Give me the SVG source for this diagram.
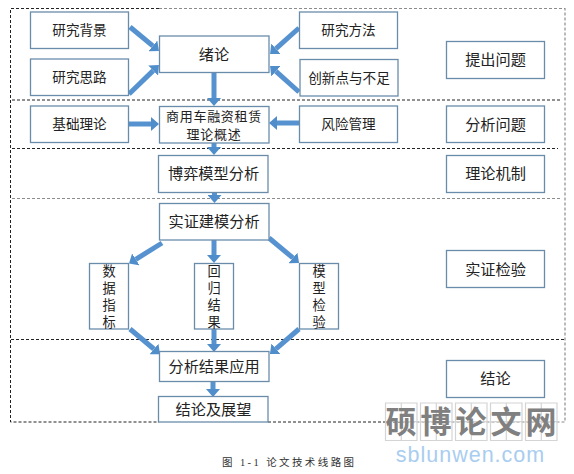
<svg xmlns="http://www.w3.org/2000/svg" width="574" height="474" viewBox="0 0 574 474">
<style>
.bg{fill:#fff}
.d{fill:none;stroke:#222;stroke-width:1;stroke-dasharray:3 2}
.dg{fill:none;stroke:#8c8c8c;stroke-width:1.2;stroke-dasharray:3 2}
.b{fill:#fff;stroke:#6a8cab;stroke-width:1.3}
.t{font-family:"Noto Sans CJK SC","Liberation Sans",sans-serif;fill:#222;text-anchor:middle;font-size:13.6px}
.l{font-size:15.2px}
.s{font-size:13px;letter-spacing:.7px}
.v{font-family:"Noto Sans CJK SC","Liberation Sans",sans-serif;fill:#222;font-size:13.2px;writing-mode:vertical-rl;letter-spacing:3.6px}
.a{fill:none;stroke:#5592cf;stroke-width:5;marker-end:url(#h)}
.wb{fill:none;stroke:#d4d4d4;stroke-width:1.2}
.wc{font-family:"Noto Sans CJK SC",sans-serif;font-weight:700;font-size:31px;fill:#808080;text-anchor:middle}
.wu{font-family:"Liberation Sans",sans-serif;font-size:21.5px;fill:#a9cdf0;text-anchor:middle;letter-spacing:1px}
.c{font-family:"Liberation Serif","Noto Sans CJK SC",serif;font-size:10.5px;fill:#333;letter-spacing:2.4px}
</style>
<defs>
<marker id="h" markerUnits="userSpaceOnUse" markerWidth="8" markerHeight="14" refX="0" refY="7" orient="auto"><path d="M0 0L8 7L0 14Z" fill="#4f8dcb"/></marker>
</defs>
<rect class="bg" width="574" height="474"/>
<g id="frame">
<path class="d" d="M159 8.500H10.500V422H159"/>
<path class="dg" d="M159 8.500H565V422H400"/>
<path class="d" d="M12 100H561"/>
<path class="d" d="M12 148.500H558"/>
<path class="dg" d="M12 198.500H561"/>
<path class="d" d="M11 339.500H565"/>
<path class="d" d="M268 422H400"/>
</g>
<g id="connectors">
<line class="a" x1="130" y1="27" x2="152.800" y2="45.900"/>
<line class="a" x1="129" y1="94" x2="153.200" y2="70.600"/>
<line class="a" x1="299" y1="28" x2="276" y2="48.700"/>
<line class="a" x1="299" y1="92" x2="276" y2="71.300"/>
<line class="a" x1="214" y1="73" x2="214" y2="98"/>
<line class="a" x1="128" y1="124" x2="151" y2="124"/>
<line class="a" x1="300" y1="123" x2="277" y2="123"/>
<line class="a" x1="214" y1="143" x2="214" y2="147"/>
<line class="a" x1="214.500" y1="192" x2="214.500" y2="195"/>
<line class="a" x1="162" y1="243" x2="135.800" y2="259.300"/>
<line class="a" x1="214" y1="240" x2="214" y2="255"/>
<line class="a" x1="269" y1="238" x2="292.900" y2="257.900"/>
<line class="a" x1="130" y1="329" x2="153.900" y2="349"/>
<line class="a" x1="214" y1="329" x2="214" y2="344"/>
<line class="a" x1="299" y1="329" x2="276" y2="348.800"/>
<line class="a" x1="213" y1="381" x2="213" y2="389"/>
</g>
<g id="n1"><rect class="b" x="30.500" y="12" width="98" height="36.500"/><text class="t" x="79.500" y="35">研究背景</text></g>
<g id="n2"><rect class="b" x="30.500" y="59" width="98" height="36.500"/><text class="t" x="79.500" y="82">研究思路</text></g>
<g id="n3"><rect class="b" x="159.500" y="36" width="109.500" height="36.500"/><text class="t l" x="214" y="59.500">绪论</text></g>
<g id="n4"><rect class="b" x="299.500" y="12" width="98" height="36.500"/><text class="t" x="348.500" y="35">研究方法</text></g>
<g id="n5"><rect class="b" x="300" y="59.500" width="98" height="36.500"/><text class="t" x="349" y="82.500">创新点与不足</text></g>
<g id="n6"><rect class="b" x="446.500" y="41.500" width="98" height="37"/><text class="t l" x="495.500" y="65">提出问题</text></g>
<g id="n7"><rect class="b" x="30.500" y="106" width="98" height="36.500"/><text class="t" x="79.500" y="129">基础理论</text></g>
<g id="n8"><rect class="b" x="159.500" y="106.500" width="109.500" height="36.500"/><text class="t s" x="214" y="120.500">商用车融资租赁</text><text class="t s" x="214" y="139">理论概述</text></g>
<g id="n9"><rect class="b" x="299.500" y="106" width="98" height="36.500"/><text class="t" x="348.500" y="129">风险管理</text></g>
<g id="n10"><rect class="b" x="446.500" y="106" width="98" height="36.500"/><text class="t l" x="495.500" y="129.500">分析问题</text></g>
<g id="n11"><rect class="b" x="158.500" y="155.500" width="109.500" height="37"/><text class="t l" x="213.500" y="179">博弈模型分析</text></g>
<g id="n12"><rect class="b" x="446.500" y="155.500" width="98" height="37"/><text class="t l" x="495.500" y="179">理论机制</text></g>
<g id="n13"><rect class="b" x="159.500" y="203.500" width="109.500" height="36.500"/><text class="t l" x="214" y="226.500">实证建模分析</text></g>
<g id="n14"><rect class="b" x="89.500" y="263.500" width="39" height="65.500"/><text class="v" x="109" y="264.500">数据指标</text></g>
<g id="n15"><rect class="b" x="194.500" y="263.500" width="39" height="65.500"/><text class="v" x="214" y="264.500">回归结果</text></g>
<g id="n16"><rect class="b" x="299.500" y="263.500" width="39" height="65.500"/><text class="v" x="319" y="264.500">模型检验</text></g>
<g id="n17"><rect class="b" x="446.500" y="250.500" width="98" height="37"/><text class="t l" x="495.500" y="274.500">实证检验</text></g>
<g id="n18"><rect class="b" x="159.500" y="351.500" width="109.500" height="30"/><text class="t l" x="214" y="371.500">分析结果应用</text></g>
<g id="n19"><rect class="b" x="158.500" y="396.500" width="109.500" height="25.500"/><text class="t l" x="213.500" y="414.500">结论及展望</text></g>
<g id="n20"><rect class="b" x="446.500" y="360.500" width="98" height="37"/><text class="t l" x="495.500" y="384">结论</text></g>
<text class="c" x="222" y="466">图 1-1 论文技术线路图</text>
<g id="watermark">
<path class="wb" d="M385.500 403h31.500v37.500h-31.500zM401.300 403v37.500M385.500 421.700h31.500M420.500 403h31.500v37.500h-31.500zM436.300 403v37.500M420.500 421.700h31.500M455.500 403h31.500v37.500h-31.500zM471.300 403v37.500M455.500 421.700h31.500M490.500 403h31.500v37.500h-31.500zM506.300 403v37.500M490.500 421.700h31.500M525.500 403h31.500v37.500h-31.500zM541.300 403v37.500M525.500 421.700h31.500"/>
<text class="wc" x="401" y="433">硕</text><text class="wc" x="436" y="433">博</text><text class="wc" x="471" y="433">论</text><text class="wc" x="506" y="433">文</text><text class="wc" x="541" y="433">网</text>
<text class="wu" x="470.500" y="462">sblunwen.com</text>
</g>
</svg>
